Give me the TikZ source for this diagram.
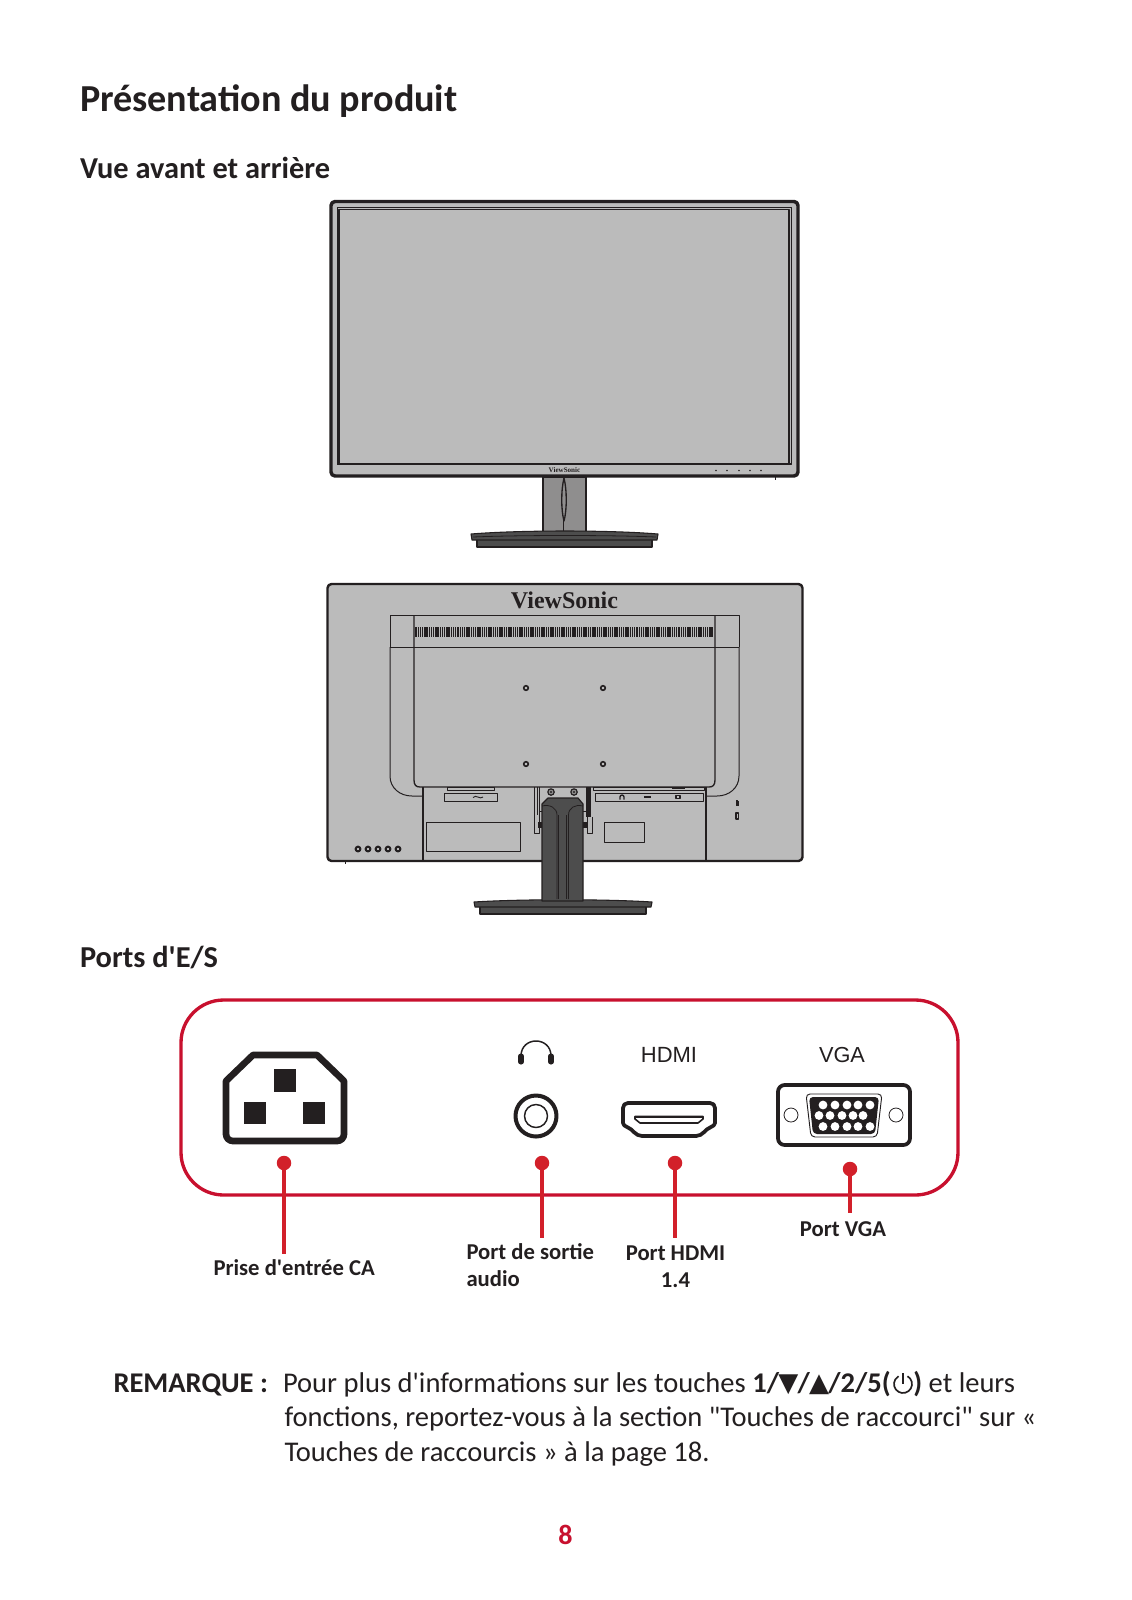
\documentclass[tikz,border=0pt]{standalone}
\usepackage{fontspec}
\setmainfont{Carlito}
\newfontfamily\carl{Carlito}
\newfontfamily\arialf{Liberation Sans}
\newfontfamily\serf{Liberation Serif}
\newfontfamily\djv{DejaVu Sans}
\definecolor{ink}{HTML}{231F20}
\definecolor{vsred}{HTML}{C8102E}
\definecolor{dotred}{HTML}{D2202A}
\definecolor{panel}{HTML}{BBBBBB}
\definecolor{standg}{HTML}{8F8E8E}
\definecolor{dark}{HTML}{4D4D4D}
\newcommand{\trig}[1]{{\djv\fontsize{19.5pt}{19.5pt}\selectfont\kern-0.55pt\raisebox{0.6pt}{#1}\kern-0.55pt}}
\tikzset{
  txt/.style={inner sep=0pt,outer sep=0pt,anchor=base west,text=ink,execute at begin node=\carl},
  ctxt/.style={inner sep=0pt,outer sep=0pt,anchor=base,text=ink,align=center},
  cctxt/.style={ctxt,execute at begin node=\carl},
  lab/.style={font=\fontsize{17pt}{20pt}\selectfont\bfseries},
  head/.style={font=\fontsize{22.8pt}{26pt}\selectfont\bfseries},
  body/.style={font=\fontsize{21.4pt}{25pt}\selectfont},
  redot/.style={circle,fill=dotred,inner sep=0pt,minimum size=14.5*0.75pt},
  leader/.style={draw=dotred,line width=2.6pt},
  ln/.style={draw=ink,line width=0.75pt},
  pin/.style={fill=white,draw=none},
}
\begin{document}
\begin{tikzpicture}[x=0.75pt,y=-0.75pt,line join=round]
\useasboundingbox (0,0) rectangle (1132,1600);
\fill[white] (0,0) rectangle (1132,1600);
% headings
\node[txt,font=\fontsize{28.6pt}{32pt}\selectfont\bfseries] (title) at (80,111) {Présentation du produit};
\node[txt,head] (h1) at (80,178) {Vue avant et arrière};
\node[txt,head] (h2) at (80,967) {Ports d'E/S};
% FRONT
\draw[fill=standg,draw=ink,line width=0.8pt] (543,477) rectangle (586,533);
\draw[ink,line width=0.8pt] (563.5,477)--(563.5,533);
\draw[ink,fill=standg,line width=1pt] (564,478) .. controls (561,490) and (561,510) .. (564,521) .. controls (567,510) and (567,490) .. (564,478);
\draw[fill=dark,draw=ink,line width=0.8pt] (477,539) rectangle (652,547);
\draw[fill=dark,draw=ink,line width=0.8pt] (471,534) .. controls (520,530) and (610,530) .. (658,534) -- (657,540) -- (472,540) -- cycle;
\draw[ink,line width=0.6pt] (473,537) .. controls (520,535) and (610,535) .. (656,537);
\draw[fill=panel,draw=ink,line width=2.6pt,rounded corners=3pt] (331,201.5) rectangle (798,476);
\draw[ink,line width=0.7pt] (337,207) rectangle (791,464);
\draw[ink,line width=1.1pt] (339,209.5) rectangle (789,464);
\draw[ink,line width=1.6pt] (337,464)--(791,464);
\node[ctxt,font=\fontsize{5.3pt}{6pt}\selectfont\serf\bfseries] (vsf) at (564.5,472) {ViewSonic};
\foreach \x in {716,727,739,750,761}{\fill[ink] (\x,470.5) circle (0.8);}
\fill[ink] (774.5,477) rectangle (776,480);
% BACK
\draw[fill=dark,draw=ink,line width=0.8pt] (480,906) rectangle (646,914);
\draw[fill=dark,draw=ink,line width=0.8pt] (474,902) .. controls (520,899) and (606,899) .. (652,902) -- (651,907) -- (475,907) -- cycle;
\draw[fill=panel,draw=ink,line width=1.8pt,rounded corners=3pt] (327.5,584) rectangle (802.5,861);
\node[ctxt,font=\fontsize{18pt}{20pt}\selectfont\serf\bfseries] (vsb) at (564.5,608) {ViewSonic};
\draw[ln] (390,647)--(390,615)--(739,615)--(739,647);
\draw[ln] (390,647)--(739,647);
\draw[ln] (390,647)--(390,776) .. controls (390,788) and (400,796) .. (412,796) -- (423,796);
\draw[ln] (739,647)--(739,776) .. controls (739,788) and (729,796) .. (717,796) -- (706,796);
\draw[ink,line width=1pt] (414,615)--(414,780) .. controls (414,785) and (416,787) .. (420,787) -- (709,787) .. controls (713,787) and (715,785) .. (715,780) -- (715,615);
\foreach \i in {0,...,134}{\draw[ink,line width=1.05pt] ({416+\i*2.21},627)--({416+\i*2.21},637);}
\foreach \x in {526,603}{\foreach \y in {688,764}{\draw[ink,line width=1.2pt,fill=panel] (\x,\y) circle (2.3);}}
% bays
\draw[ink,line width=1.2pt] (423,787)--(423,861);
\draw[ink,line width=1.2pt] (706,787)--(706,861);
\draw[ln] (447,787) rectangle (494,790.5);
\draw[ln] (444,793.5) rectangle (497,801.5);
\draw[ink,line width=0.7pt] (473,797.5) .. controls (476,794) and (480,800) .. (483,797);
\draw[ln] (426,822) rectangle (520,851);
\draw[ln] (604,822) rectangle (644,842);
\draw[ln] (593,787) rectangle (704,790.5);
\draw[ln] (595,793.5) rectangle (703,801.5);
\fill[ink] (672,786.5) rectangle (685,789);
\draw[ink,line width=1pt] (620,799.5)--(620,797) arc (180:360:2)--(624,799.5);
\fill[ink] (643.5,796) rectangle (650.5,798);
\draw[ink,line width=0.9pt] (676,795.5) rectangle (680,798.5);
\foreach \x in {358,368,378,388,398}{\draw[ink,line width=1.5pt,fill=panel] (\x,849) circle (2.4);}
\fill[ink] (735.5,801) rectangle (739,806); \fill[ink] (736.3,799.5) rectangle (738.2,801);
\draw[ink,line width=0.9pt] (736,813) rectangle (738.5,819);
\fill[ink] (344.5,861) rectangle (346,864);
% bracket
\draw[ln] (534,787)--(534,833)--(539,833)--(539,787);
\draw[ln] (537,787)--(537,815);
\draw[ln] (587,817)--(587,833)--(592,833)--(592,817);
\fill[ink] (586,787) rectangle (591,817);
\fill[ink] (538,822) rectangle (543,828);
\fill[ink] (583,822) rectangle (587,828);
\draw[ln] (539,811)--(543,811); \draw[ln] (583,811)--(587,811);
\foreach \x in {551,574}{\draw[ink,line width=0.9pt,fill=standg] (\x,792) circle (3.2); \fill[ink] (\x,792) circle (1.2);}
% neck
\draw[fill=dark,draw=ink,line width=0.9pt] (542,804)--(548,798)--(578,798)--(583,804)--(583,901)--(542,901)--cycle;
\draw[ink,line width=0.6pt] (542,806) .. controls (550,804) and (557,808) .. (557,815) -- (557,899);
\draw[ink,line width=0.5pt] (558.7,815)--(558.7,899);
\draw[ink,line width=0.6pt] (583,806) .. controls (575,804) and (568.5,808) .. (568.5,815) -- (568.5,899);
\draw[ink,line width=0.5pt] (566.8,815)--(566.8,899);
% PORTS box
\draw[vsred,line width=2.5pt,rounded corners=32pt] (181,1000) rectangle (958,1195);
% IEC
\draw[ink,line width=5pt] (253,1055)--(317,1055)--(344,1081)--(344,1134) arc (0:90:7) --(233,1141) arc (90:180:7)--(226,1081)--cycle;
\fill[ink] (274,1069) rectangle (296,1092);
\fill[ink] (244,1102) rectangle (266,1124);
\fill[ink] (303,1102) rectangle (325,1124);
% headphone
\draw[ink,line width=1.1pt] (521,1056) .. controls (521,1036) and (551,1036) .. (551,1056);
\draw[ink,line width=3.8pt,line cap=round] (521,1056)--(521,1062);
\draw[ink,line width=3.8pt,line cap=round] (551,1056)--(551,1062);
% jack
\draw[ink,line width=3pt] (536,1116) circle (20.5);
\draw[ink,line width=1.1pt] (536,1116) circle (11.5);
% HDMI
\draw[ink,line width=2.8pt] (628,1103) -- (710,1103) .. controls (713,1103) and (715,1105) .. (715,1108) -- (715,1123) .. controls (715,1125) and (713,1126) .. (711,1127) .. controls (705,1129) and (703,1136) .. (696,1136) -- (642,1136) .. controls (635,1136) and (633,1129) .. (627,1127) .. controls (625,1126) and (623,1125) .. (623,1123) -- (623,1108) .. controls (623,1105) and (625,1103) .. (628,1103) -- cycle;
\draw[ink,line width=1.2pt] (635,1116.5)--(703,1116.5)--(703,1119)--(698,1123)--(640,1123)--(635,1119)--cycle;
\fill[ink] (635,1116)--(703,1116)--(703,1118)--(635,1118)--cycle;
% VGA
\draw[ink,line width=2.8pt,rounded corners=5pt] (778,1085) rectangle (910,1145);
\draw[ink,line width=0.6pt] (791,1115) circle (7);
\draw[ink,line width=0.6pt] (896,1115) circle (7);
\draw[ink,line width=0.7pt,rounded corners=3pt] (806,1094)--(882,1094)--(877,1137)--(811,1137)--cycle;
\fill[ink,rounded corners=3pt] (809,1097)--(879,1097)--(875,1134)--(813,1134)--cycle;
\foreach \x in {823,835,847,858,870}{\fill[pin] (\x,1105) circle (4.4);\fill[pin] (\x,1126.5) circle (4.4);}
\foreach \x in {819,830,842,853,863}{\fill[pin] (\x,1115.5) circle (4.4);}
\node[ctxt,font=\fontsize{16.5pt}{20pt}\selectfont\arialf] (thdmi) at (669,1062) {HDMI};
\node[ctxt,font=\fontsize{16.3pt}{20pt}\selectfont\arialf] (tvga) at (842,1062) {VGA};
% leaders
\node[redot] (dac) at (284,1163) {};
\node[redot] (dau) at (542,1163) {};
\node[redot] (dhd) at (675,1163) {};
\node[redot] (dvg) at (850,1169) {};
\coordinate (eac) at (284,1254);
\coordinate (eau) at (542,1238);
\coordinate (ehd) at (675,1238);
\coordinate (evg) at (850,1213);
\draw[leader] (dac.center)--(eac);
\draw[leader] (dau.center)--(eau);
\draw[leader] (dhd.center)--(ehd);
\draw[leader] (dvg.center)--(evg);
\node[txt,lab] (lac) at (213.5,1275) {Prise d'entrée CA};
\node[txt,lab] (lau) at (466.5,1259) {Port de sortie};
\node[txt,lab] (lau2) at (466.5,1286) {audio};
\node[cctxt,lab] (lhd) at (675.5,1260) {Port HDMI};
\node[cctxt,lab] (lhd2) at (675.5,1287) {1.4};
\node[cctxt,lab] (lvg) at (843,1236) {Port VGA};
% note
\node[txt,body,font=\fontsize{21.4pt}{25pt}\selectfont\bfseries] (rem) at (113.5,1392) {REMARQUE :};
\node[txt,body] (n1) at (283,1392) {Pour plus d'informations sur les touches \textbf{1/\trig{▼}/\trig{▲}/2/5(\hspace{17pt})} et leurs};
\draw[ink,line width=1.25pt] (907.5,1376.2) arc (-60:240:9);
\draw[ink,line width=1.25pt] (903,1373)--(903,1384);
\node[txt,body] (n2) at (284.5,1426.5) {fonctions, reportez-vous à la section "Touches de raccourci" sur «};
\node[txt,body] (n3) at (284.5,1461) {Touches de raccourcis » à la page 18.};
\node[cctxt,text=vsred,font=\fontsize{21pt}{25pt}\selectfont\bfseries] (pg) at (565.5,1544) {8};
\end{tikzpicture}
\end{document}
